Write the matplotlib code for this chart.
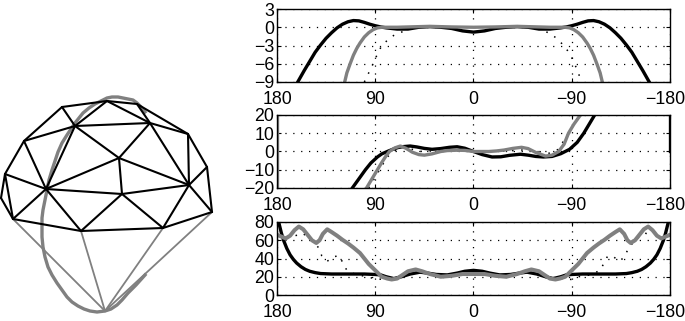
#!/usr/bin/env python3
import matplotlib
matplotlib.use("Agg")
import matplotlib.pyplot as plt
from matplotlib.transforms import ScaledTranslation

plt.rcParams['font.family'] = ['Liberation Sans', 'DejaVu Sans']

# mesh vertices (pixels)
verts = {
    'A': (1, 198), 'B': (5, 174), 'C': (13, 219), 'D': (24, 141), 'E': (62, 107),
    'F': (75, 126), 'G': (46, 189), 'H': (81, 231), 'I': (107, 101), 'J': (137, 104),
    'K': (150, 123), 'L': (119, 158), 'M': (122, 194), 'N': (163, 228), 'O': (189, 185),
    'P': (212, 212), 'Q': (207, 167), 'R': (188, 134), 'S': (105, 311),
}
black_edges = ['AB', 'BD', 'DE', 'EI', 'IJ', 'JR', 'RQ', 'QP', 'PN', 'NH', 'HC', 'CA',
               'BC', 'BG', 'CG', 'DG', 'DF', 'EF', 'FI', 'FK', 'FG', 'FL', 'IK', 'JK',
               'KL', 'KR', 'KO', 'RO', 'QO', 'OP', 'ON', 'OM', 'OL', 'LM', 'LG', 'GM',
               'GH', 'MH', 'MN']
gray_edges = ['CS', 'HS', 'NS', 'PS']
loop_x = [145, 141, 137, 133, 128, 123, 118, 112, 107, 101, 95, 89, 83, 79, 75, 71, 67, 62, 58, 55, 52, 49, 47, 45,
          43, 42, 42, 42, 43, 45, 48, 52, 57, 62, 67, 72, 78, 84, 90, 97, 105, 111, 117, 122, 128, 136, 145]
loop_y = [112, 107, 103, 100, 99, 98, 97, 97, 98, 101, 104, 108, 113, 118, 123, 129, 135, 143, 152, 161, 170, 180,
          190, 200, 210, 218, 227, 237, 247, 257, 267, 275, 283, 290, 297, 302, 306, 309, 311, 312, 311, 309, 305,
          300, 293, 285, 275]

# top panel
a1_black = [161, 155, 150, 145, 140, 135, 130, 125, 120, 115, 110, 105, 100, 95, 90, 85, 80, 70, 60, 50, 40,
            30, 20, 10, 0, -10, -20, -30, -40, -50, -60, -70, -80, -85, -90, -95, -100, -105, -110, -115,
            -120, -125, -130, -135, -140, -145, -150, -155, -161]
v1_black = [-9, -7.1, -5.6, -4.1, -2.9, -1.8, -0.9, -0.1, 0.5, 0.9, 1.1, 1.05, 0.8, 0.5, 0.25, 0.05, -0.1, -0.3,
            -0.3, 0, 0.1, 0, -0.2, -0.6, -0.8, -0.6, -0.2, 0, 0.1, 0, -0.3, -0.3, -0.1, 0.05, 0.25, 0.5, 0.8,
            1.05, 1.1, 0.9, 0.5, -0.1, -0.9, -1.8, -2.9, -4.1, -5.6, -7.1, -9]
a1_gray = [118, 116, 113, 110, 107, 104, 100, 96, 92, 88, 84, 70, 50, 40, 20, 0, -20, -40, -50, -70, -84, -88,
           -92, -96, -100, -104, -107, -110, -113, -116, -118]
v1_gray = [-9, -7.5, -6, -4.6, -3.5, -2.6, -1.6, -0.9, -0.4, -0.1, 0, 0, 0.1, 0.15, 0.05, 0, 0.05, 0.15, 0.1, 0,
           0, -0.1, -0.4, -0.9, -1.6, -2.6, -3.5, -4.6, -6, -7.5, -9]
a1_dot = [100, 96, 92, 88, 84, 78, 72, 60, 50, 0, -50, -60, -70, -76, -81, -86, -90, -95, -99]
v1_dot = [-9, -7.5, -6, -4.4, -3, -2, -1.2, -0.4, 0, 0, 0, -0.3, -1, -1.8, -2.7, -3.8, -5, -7, -9]

# middle panel
a2_black = [111, 105, 99, 94, 88, 84, 79, 74, 69, 64, 58, 52, 45, 38, 30, 22, 15, 8, 0, -8, -17, -25, -33, -43,
            -50, -57, -64, -72, -80, -88, -95, -101, -106, -111]
v2_black = [-20, -15, -10, -6.3, -3, -1.3, 0, 1.2, 2.2, 2.7, 3, 2.5, 1.7, 1.2, 1.6, 2.3, 2.6, 1.8, 0, -1.7, -3,
            -2.9, -2.1, -1.5, -2, -2.7, -3, -2.7, -1.2, 1.2, 5, 10, 15, 20]
a2_gray = [98, 93, 88, 84, 80, 77, 72, 67, 62, 56, 50, 45, 38, 30, 24, 15, 8, 0, -8, -14, -21, -28, -36, -44, -50,
           -57, -66, -72, -78, -83, -87, -92, -98]
v2_gray = [-20, -15, -10, -6, -2.3, 0, 2, 3, 1.8, -0.4, -1.7, -2, -1.3, 0, 0.5, 0.7, 0.6, 0, 0, 0, 0.3, 0.8, 1.7,
           2.3, 1.6, -0.5, -2.5, -2, 0, 4, 10, 15, 20]
a2_dot = [96, 90, 84, 79, 73, 67, 60, 50, 30, 0, -30, -50, -70, -77, -84, -91, -97]
v2_dot = [-20, -14, -8, -3, 0, 2.5, 2, 0, 0.5, 0.3, 0.3, 1, -1, 1, 7, 14, 20]
# parts of the curves that run along the panel edges
edge_a_gray = [180, 180]
edge_v_gray = [-20, 20]
edge_a_black = [-180, -180]
edge_v_black = [0, 20]

# bottom panel
a3_black = [178.5, 176, 174, 171, 168, 165, 162, 158, 154, 150, 145, 140, 130, 120, 100, 90, 85, 80, 73, 66, 58, 49,
            42, 34, 24, 15, 8, 0, -8, -15, -24, -34, -42, -49, -58, -66, -73, -80, -85, -90, -100, -120, -130, -140,
            -145, -150, -154, -158, -162, -165, -168, -171, -174, -176, -178.5]
v3_black = [80, 68, 60, 51, 44, 39, 35, 31, 28, 26, 24.5, 23.5, 23, 23, 23, 22.5, 22, 20, 18, 20, 23, 25, 24, 22.5,
            22, 24, 26, 27, 26, 24, 22, 22.5, 24, 25, 23, 20, 18, 20, 22, 22.5, 23, 23, 23, 23.5, 24.5, 26, 28, 31,
            35, 39, 44, 51, 60, 68, 80]
a3_gray = [180, 176, 172, 168, 164, 160, 156, 152, 148, 144, 141, 138, 134, 130, 125, 120, 115, 110, 104, 96, 90, 84,
           79, 75, 70, 65, 60, 53, 47, 40, 30, 20, 10, 0, -10, -20, -30, -40, -47, -53, -60, -65, -70, -75, -79, -84,
           -90, -96, -104, -110, -115, -120, -125, -130, -134, -138, -141, -144, -148, -152, -156, -160, -164, -168,
           -172, -176, -180]
v3_gray = [66, 64, 62, 65, 71, 75, 72, 66, 60, 57, 60, 67, 72, 69, 65, 60.5, 56.5, 52, 46, 34, 27, 20, 18, 17, 18, 22,
           26, 28, 26, 23, 20, 21, 23, 23, 23, 21, 20, 23, 26, 28, 26, 22, 18, 17, 18, 20, 27, 34, 46, 52, 56.5, 60.5,
           65, 69, 72, 67, 60, 57, 60, 66, 72, 75, 71, 65, 62, 64, 66]
a3_dot = [163, 157, 150, 142, 139, 134, 128, 123, 120, 116, 107, 96, 90, 75, 50, 30, 0, -30, -50, -75, -90, -96, -107,
          -116, -120, -123, -128, -134, -139, -142, -150, -157, -163]
v3_dot = [65, 68, 62, 52, 43, 37, 42, 43, 36, 27, 22, 20, 17, 18, 25, 22, 24, 22, 25, 18, 17, 20, 22, 27, 36, 43, 42,
          37, 43, 52, 62, 68, 65]

angle_ticks = [180, 90, 0, -90, -180]
panels = [
    (9, [3, 0, -3, -6, -9], a1_black, v1_black, a1_gray, v1_gray, a1_dot, v1_dot, 2.4),
    (115, [20, 10, 0, -10, -20], a2_black, v2_black, a2_gray, v2_gray, a2_dot, v2_dot, 2.4),
    (222, [80, 60, 40, 20, 0], a3_black, v3_black, a3_gray, v3_gray, a3_dot, v3_dot, 2.9),
]

W, H = 685, 321
fig = plt.figure(figsize=(6.85, 3.21), dpi=100)

# mesh on the left, axes in picture pixels
mesh = fig.add_axes([0, 0, 1, 1])
mesh.set_xlim(0, W)
mesh.set_ylim(H, 0)
mesh.axis('off')
for e in gray_edges:
    p, q = verts[e[0]], verts[e[1]]
    mesh.plot([p[0], q[0]], [p[1], q[1]], color='#808080', lw=1.3)
mesh.plot(loop_x, loop_y, color='#808080', lw=2.4, solid_joinstyle='round')
for e in black_edges:
    p, q = verts[e[0]], verts[e[1]]
    mesh.plot([p[0], q[0]], [p[1], q[1]], color='black', lw=1.5, solid_capstyle='round')

for top, yticks, ax_b, val_b, ax_g, val_g, ax_d, val_d, gray_lw in panels:
    ax = fig.add_axes([277 / W, 1 - (top + 73) / H, 393 / W, 73 / H])
    ax.plot(ax_d, val_d, color='black', lw=1.1, ls=(0, (1, 5)))
    ax.plot(ax_b, val_b, color='black', lw=2.4)
    ax.plot(ax_g, val_g, color='#808080', lw=gray_lw)
    ax.set_xlim(180, -180)
    ax.set_ylim(min(yticks), max(yticks))
    ax.set_xticks(angle_ticks)
    ax.set_yticks(yticks)
    ax.grid(True, color='black', lw=0.9, ls=(0, (1, 5.3)))
    ax.set_axisbelow(True)
    ax.tick_params(direction='in', top=True, right=True, length=3, width=0.8, labelsize=12.8, pad=2)
    ax.tick_params(axis='x', pad=6.5)
    for s in ax.spines.values():
        s.set_linewidth(1.0)
    # the -180 label sits a little left so it stays inside the picture
    last = ax.get_xticklabels()[-1]
    last.set_transform(last.get_transform() + ScaledTranslation(-5 / 100, 0, fig.dpi_scale_trans))
    if top == 115:
        ax.plot(edge_a_gray, edge_v_gray, color='#808080', lw=2.4)
        ax.plot(edge_a_black, edge_v_black, color='black', lw=2.4)

fig.savefig('out.png', dpi=100)
